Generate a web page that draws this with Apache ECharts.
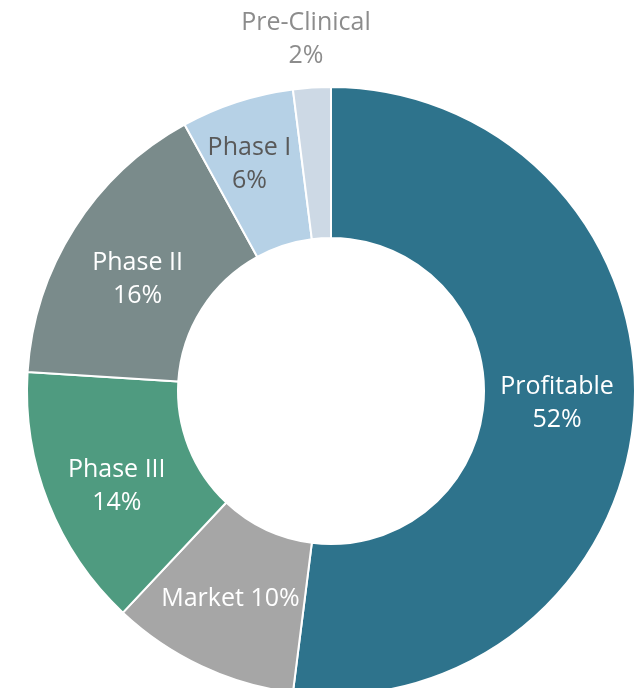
<!DOCTYPE html>
<html>
<head>
  <meta charset="UTF-8" />
  <title>Pipeline donut</title>
  <script src="https://cdn.jsdelivr.net/npm/echarts@6/dist/echarts.min.js"></script>
  <style>
    html, body { margin: 0; height: 100%; background: #fff; }
    #main { width: 644px; height: 688px; }
  </style>
</head>
<body>
  <div id="main"></div>
  <script>
    const categories = ['Profitable', 'Market', 'Phase III', 'Phase II', 'Phase I', 'Pre-Clinical'];
    const shares = [52, 10, 14, 16, 6, 2];

    const colors = ['#2e738c', '#a6a6a6', '#4f9b80', '#7a8b8b', '#b6d1e6', '#cdd9e5'];
    const labelColors = ['#fff', '#fff', '#fff', '#fff', '#595959', '#8c8c8c'];
    // nudge the inside labels to where the original placed them
    const labelNudge = [[-5, -2], [-2, -2], [1, 10], [2, 12], [-10, -6], [0, 0]];

    const chart = echarts.init(document.getElementById('main'));

    const data = categories.map((name, i) => {
      const item = {
        name: name,
        value: shares[i],
        itemStyle: { color: colors[i] },
        label: { color: labelColors[i], offset: labelNudge[i] }
      };
      if (name === 'Market') {
        item.label.formatter = '{b} {c}%';
      }
      if (name === 'Pre-Clinical') {
        item.label.position = 'outside';
        item.labelLine = { show: false, length: 15, length2: 0 };
      }
      return item;
    });

    chart.setOption({
      animation: false,
      series: [{
        type: 'pie',
        center: [331, 391],
        radius: [153, 304],
        startAngle: 90,
        clockwise: true,
        avoidLabelOverlap: false,
        itemStyle: { borderColor: '#fff', borderWidth: 2 },
        label: {
          show: true,
          position: 'inside',
          formatter: '{b}\n{c}%',
          fontFamily: 'Open Sans',
          fontSize: 25,
          lineHeight: 33
        },
        labelLayout: function (params) {
          if (params.dataIndex === 5) {
            return { align: 'center', verticalAlign: 'bottom' };
          }
        },
        data: data
      }]
    });
  </script>
</body>
</html>
